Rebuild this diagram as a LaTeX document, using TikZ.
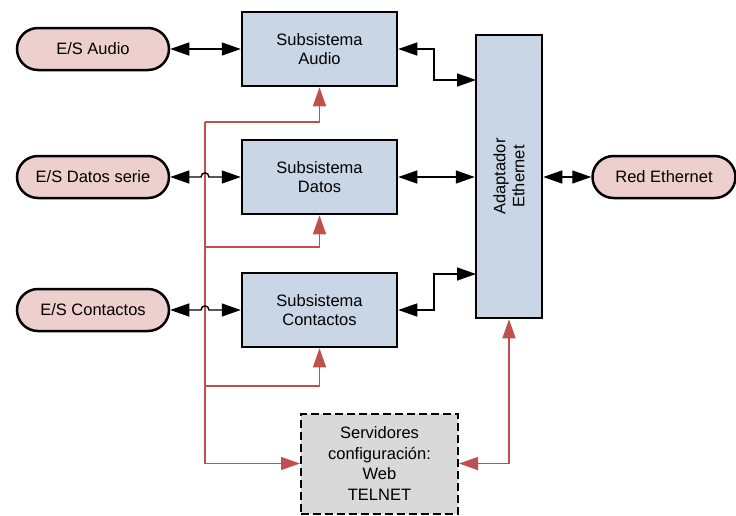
\documentclass[tikz,border=0pt]{standalone}
\usepackage{fontspec}
\setmainfont{Liberation Sans}
\usetikzlibrary{arrows.meta}
\definecolor{pillfill}{HTML}{EDCFCE}
\definecolor{boxfill}{HTML}{C9D6E6}
\definecolor{srvfill}{HTML}{D9D9D9}
\definecolor{busred}{HTML}{C0504D}
\begin{document}
\begin{tikzpicture}[x=1pt,y=-1pt,
  txt/.style={font=\fontsize{16.5}{19}\selectfont, align=center},
  pill/.style={txt, draw=black, line width=2.5pt, fill=pillfill,
    minimum width=152pt, minimum height=42pt, rounded corners=21pt, inner sep=0pt},
  subbox/.style={txt, draw=black, line width=2.5pt, fill=boxfill,
    minimum width=155pt, minimum height=74pt, inner sep=0pt},
  srvbox/.style={font=\fontsize{16.5}{20.7}\selectfont, align=center,
    draw=black, line width=2pt, dash pattern=on 8pt off 4pt, fill=srvfill,
    minimum width=157pt, minimum height=100pt, inner sep=0pt},
  bi/.style={draw=black, line width=1.4pt, {Triangle[length=19pt,width=13pt]}-{Triangle[length=19pt,width=13pt]}},
  bus/.style={draw=busred, line width=1.4pt},
  busarrow/.style={bus, -{Triangle[length=19pt,width=13pt]}, busred},
  busbi/.style={bus, {Triangle[length=19pt,width=13pt]}-{Triangle[length=19pt,width=13pt]}, busred}
]
\useasboundingbox (0,0) rectangle (736,515);

% external interfaces
\node[pill] (esa) at (93,49)  {E/S Audio};
\node[pill] (esd) at (93,177) {E/S Datos serie};
\node[pill] (esc) at (93,310) {E/S Contactos};
\node[pill, minimum width=143pt] (red) at (664,177) {Red Ethernet};

% subsystems
\node[subbox] (sa) at (319.5,49)  {Subsistema\\Audio};
\node[subbox] (sd) at (319.5,177) {Subsistema\\Datos};
\node[subbox] (sc) at (319.5,310) {Subsistema\\Contactos};

% ethernet adapter
\node[draw=black, line width=2.5pt, fill=boxfill, minimum width=66pt,
      minimum height=283pt, inner sep=0pt] (ad) at (509,176.5) {};
\node[txt, rotate=90] (adlbl) at (ad.center) {Adaptador\\Ethernet};

% configuration servers
\node[srvbox] (sv) at (379.5,463.5) {Servidores\\configuración:\\Web\\TELNET};

% configuration bus
\coordinate (b1) at (205,122);
\coordinate (b2) at (205,247);
\coordinate (b3) at (205,386);
\coordinate (b4) at (205,463.5);
\draw[bus] (b1) -- (b4);
\draw[busarrow] (b1) -| (sa.south);
\draw[busarrow] (b2) -| (sd.south);
\draw[busarrow] (b3) -| (sc.south);
\draw[busarrow] (b4) -- (sv.west);
\draw[busbi] (ad.south) |- (sv.east);

% data links
\draw[bi] (esa.east) -- (sa.west);
\draw[bi] (esd.east) -- (201,177) .. controls (201,171.5) and (209,171.5) .. (209,177) -- (sd.west);
\draw[bi] (esc.east) -- (201,310) .. controls (201,304.5) and (209,304.5) .. (209,310) -- (sc.west);

\coordinate (adA) at (476,80);
\coordinate (adC) at (476,274);
\draw[bi] (sa.east) -- (434,49) -- (434,80) -- (adA);
\draw[bi] (sd.east) -- (ad.west |- sd.east);
\draw[bi] (sc.east) -- (434,310) -- (434,274) -- (adC);
\draw[bi] (ad.east |- red.west) -- (red.west);
\end{tikzpicture}
\end{document}
